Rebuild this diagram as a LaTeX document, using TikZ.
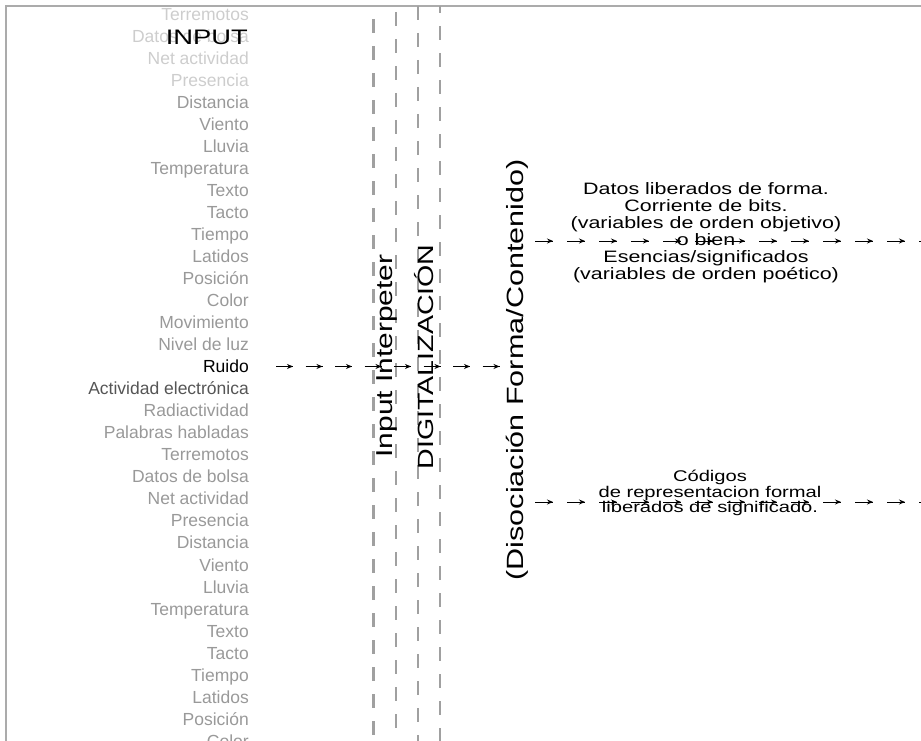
\documentclass[tikz,border=0pt]{standalone}
\usepackage{fontspec}
\setmainfont{Liberation Sans}
\newfontfamily\anchasans[FakeStretch=1.3]{Liberation Sans}
\usetikzlibrary{arrows.meta}
\usetikzlibrary{decorations.markings}
\usetikzlibrary{calc}

\definecolor{marco}{HTML}{ABABAB}
\definecolor{guia}{HTML}{A0A0A0}
\definecolor{sensor}{HTML}{999999}
\definecolor{tenue}{HTML}{CDCDCD}
\definecolor{oscuro}{HTML}{555555}

\tikzset{
  flujo/.style n args={3}{draw, line width=0.9pt, dash pattern=on #1 off #2,
    decoration={markings, mark=between positions #1 and 1 step #3 with {\pgfsetdash{}{0pt}\arrow{Stealth[length=6pt,width=5pt]}}},
    postaction={decorate}},
  guia/.style={draw=guia, line width=2.6pt, dash pattern=on 14pt off 13pt}
}

\begin{document}
\begin{tikzpicture}[x=1pt,y=-1pt]
  \tikzstyle{every node}=[inner sep=0pt]
  \tikzstyle{sensores}=[anchor=east, text height=12.5pt, text depth=0pt, font=\fontsize{17.5}{17.5}\selectfont]
  \tikzstyle{etapa}=[rotate=90, font=\anchasans\fontsize{22}{22}\selectfont]
  \tikzstyle{salida}=[align=center]
  \useasboundingbox (0,0) rectangle (921,741);
  % marco
  \draw[marco, line width=2pt] (6,745) -- (6,6.5) -- (930,6.5);
  % lineas guia
  \draw[guia] (373.5,19) -- (373.5,745);
  \draw[guia] (396,12) -- (396,745);
  \draw[guia] (418,6) -- (418,745);
  \draw[guia, dash phase=7pt] (440,6) -- (440,745);
  % entradas
  \foreach \s/\c [count=\i from 0] in {Terremotos/tenue, Datos de bolsa/tenue, Net actividad/tenue, Presencia/tenue,
      Distancia/sensor, Viento/sensor, Lluvia/sensor, Temperatura/sensor, Texto/sensor, Tacto/sensor, Tiempo/sensor,
      Latidos/sensor, Posición/sensor, Color/sensor, Movimiento/sensor, Nivel de luz/sensor, Ruido/black,
      Actividad electrónica/oscuro, Radiactividad/sensor, Palabras habladas/sensor, Terremotos/sensor,
      Datos de bolsa/sensor, Net actividad/sensor, Presencia/sensor, Distancia/sensor, Viento/sensor, Lluvia/sensor,
      Temperatura/sensor, Texto/sensor, Tacto/sensor, Tiempo/sensor, Latidos/sensor, Posición/sensor, Color/sensor}
    \node[sensores, text=\c] (sensor\i) at (249,14+22.03*\i) {\s};
  \node[anchor=east, font=\anchasans\fontsize{21}{21}\selectfont] (input) at (248,37) {INPUT};
  % etapas
  \node[etapa, font=\anchasans\fontsize{23}{23}\selectfont] (interprete) at (387,356) {Input Interpeter};
  \node[etapa] (digitalizacion) at (424,357) {DIGITALIZACIÓN};
  \node[etapa, font=\anchasans\fontsize{23.5}{23.5}\selectfont] (disociacion) at (517,370) {(Disociación Forma/Contenido)};
  % salidas
  \node[salida, font=\anchasans\fontsize{16.5}{17}\selectfont] (datos) at (706,233) {Datos liberados de forma.\\ Corriente de bits.\\ (variables de orden objetivo)\\ o bien\\ Esencias/significados\\ (variables de orden poético)};
  \node[salida, font=\anchasans\fontsize{15.5}{15.5}\selectfont] (codigos) at (710,493) {Códigos\\ de representacion formal\\ liberados de significado.};
  \coordinate (ini1) at (535,241);
  \coordinate (fin1) at (935,241);
  \coordinate (ini2) at (535,502);
  \coordinate (fin2) at (935,502);
  \draw[flujo={17pt}{12.5pt}{29.5pt}] ([xshift=27pt]sensor16.east) -- ([xshift=-3pt]sensor16.east -| disociacion.north);
  \draw[flujo={18pt}{14pt}{32pt}] (ini1) -- (fin1);
  \draw[flujo={18pt}{14pt}{32pt}] (ini2) -- (fin2);
\end{tikzpicture}
\end{document}
